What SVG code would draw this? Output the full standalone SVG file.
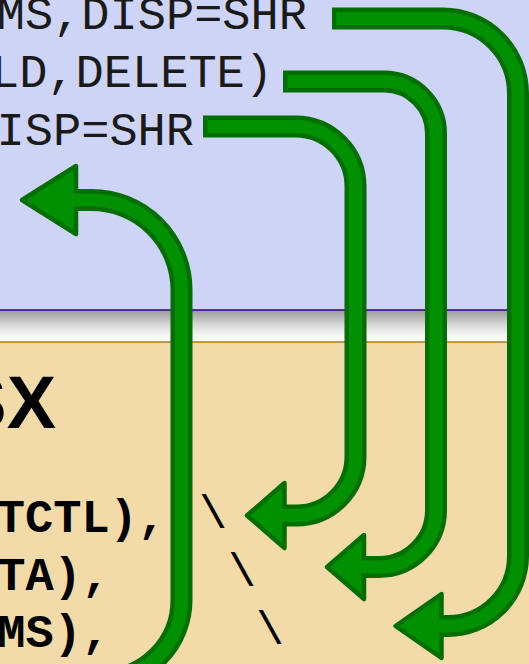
<svg xmlns="http://www.w3.org/2000/svg" width="529" height="664" viewBox="0 0 529 664">
<defs>
<linearGradient id="band" x1="0" y1="0" x2="0" y2="1">
<stop offset="0" stop-color="#999999"/>
<stop offset="0.45" stop-color="#d6d6d6"/>
<stop offset="0.8" stop-color="#f6f6f6"/>
<stop offset="1" stop-color="#ffffff"/>
</linearGradient>
<style>
.mono{font-family:"Liberation Mono","Courier New",monospace;font-size:47px;fill:#1a1a1a}
.monob{font-family:"Liberation Mono","Courier New",monospace;font-size:47px;font-weight:bold;fill:#000}
.bs{font-family:"Liberation Mono","Courier New",monospace;font-size:47px;fill:#000;text-anchor:middle}
.big{font-family:"Liberation Sans",Arial,sans-serif;font-size:74px;font-weight:bold;fill:#000}
.so{fill:none;stroke:#006e00;stroke-width:22;stroke-linecap:square}
.si{fill:none;stroke:#009000;stroke-width:13;stroke-linecap:square}
.hd{fill:#009000;stroke:#006e00;stroke-width:4.5;stroke-linejoin:round}
</style>
</defs>
<g id="background">
<rect x="0" y="0" width="529" height="310" fill="#ced4f6"/>
<rect x="0" y="310" width="529" height="32" fill="url(#band)"/>
<rect x="0" y="342" width="529" height="322" fill="#f3dba9"/>
<line x1="0" y1="310" x2="529" y2="310" stroke="#330088" stroke-width="1.5"/>
<line x1="0" y1="342" x2="529" y2="342" stroke="#b07a18" stroke-width="1.5"/>
</g>
<g id="jcl">
<text class="mono" x="307" y="29" text-anchor="end">MS,DISP=SHR</text>
<text class="mono" x="273" y="87" text-anchor="end">LD,DELETE)</text>
<text class="mono" x="194" y="145" text-anchor="end">ISP=SHR</text>
</g>
<g id="program">
<text class="big" x="56" y="428" text-anchor="end">SX</text>
<text class="monob" x="166" y="532" text-anchor="end">TCTL),</text>
<text class="monob" x="110" y="590" text-anchor="end">TA),</text>
<text class="monob" x="110" y="647" text-anchor="end">MS),</text>
<text class="bs" x="213" y="528">\</text>
<text class="bs" x="242" y="586">\</text>
<text class="bs" x="270" y="644">\</text>
</g>
<g id="connectors">
<path class="so" d="M343,18.5 H443 A75,75 0 0 1 518,93.5 V556 A70,70 0 0 1 448,626 H441.5"/>
<path class="so" d="M294,81.5 H384 A52,52 0 0 1 436,133.5 V510 A57,57 0 0 1 379,567 H364"/>
<path class="so" d="M214,126.5 H295.5 A60,60 0 0 1 355.5,186.5 V456.5 A59,59 0 0 1 296.5,515.5 H284.5"/>
<path class="so" d="M76,200 H91.5 A90,90 0 0 1 181.5,290 V600 A80,80 0 0 1 101.5,680"/>
<polygon class="hd" points="441.5,594 395.5,626 441.5,658"/>
<polygon class="hd" points="364,535 327,567 364,599"/>
<polygon class="hd" points="284.5,483 247,515.5 284.5,548"/>
<polygon class="hd" points="76,166 22,200 76,234"/>
<path class="si" d="M343,18.5 H443 A75,75 0 0 1 518,93.5 V556 A70,70 0 0 1 448,626 H441.5"/>
<path class="si" d="M294,81.5 H384 A52,52 0 0 1 436,133.5 V510 A57,57 0 0 1 379,567 H364"/>
<path class="si" d="M214,126.5 H295.5 A60,60 0 0 1 355.5,186.5 V456.5 A59,59 0 0 1 296.5,515.5 H284.5"/>
<path class="si" d="M76,200 H91.5 A90,90 0 0 1 181.5,290 V600 A80,80 0 0 1 101.5,680"/>
</g>
</svg>
